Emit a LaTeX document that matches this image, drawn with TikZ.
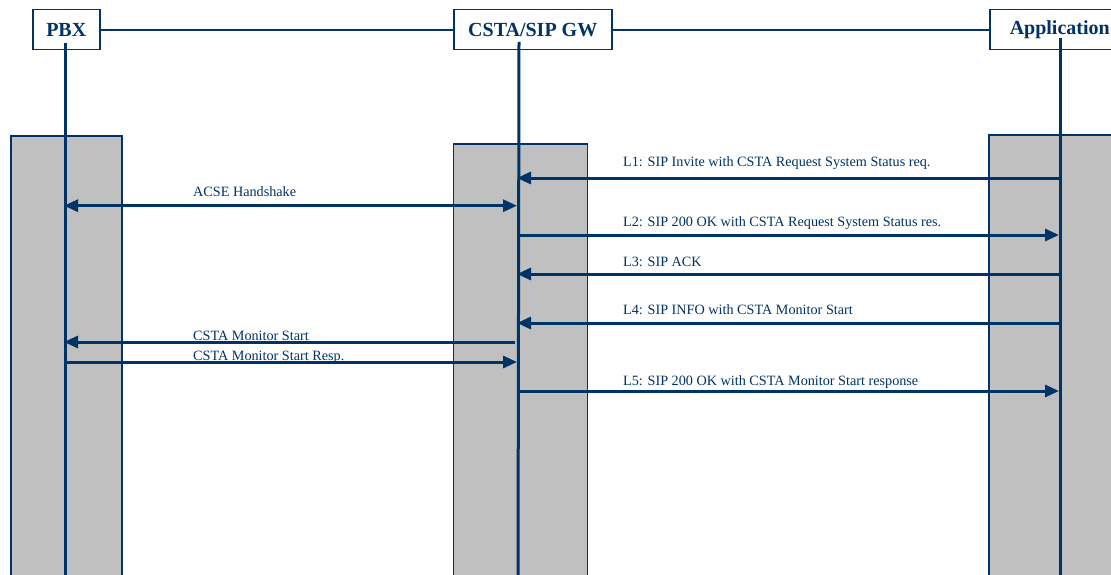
\documentclass[tikz,border=0pt]{standalone}
\usepackage{fontspec}
\setmainfont{Liberation Serif}
\usetikzlibrary{arrows.meta}
\definecolor{navy}{RGB}{0,51,102}
\definecolor{bargray}{RGB}{192,192,192}
\begin{document}
\begin{tikzpicture}[x=1pt,y=-1pt,
 hdr/.style={draw=navy, line width=1.5pt, fill=white, font=\fontsize{20}{24}\selectfont\bfseries, text=navy, inner sep=0pt, anchor=north west, minimum height=40pt},
 bar/.style={draw=navy, line width=1.5pt, fill=bargray},
 life/.style={draw=navy, line width=3pt},
 hline/.style={draw=navy, line width=1.8pt},
 msg/.style={draw=navy, line width=3pt, -{Triangle[length=14pt,width=12pt]}},
 msg2/.style={draw=navy, line width=3pt, {Triangle[length=14pt,width=12pt]}-{Triangle[length=14pt,width=12pt]}},
 lbl/.style={text=navy, font=\fontsize{14.2}{17}\selectfont, anchor=base west, inner sep=0pt},
]
\useasboundingbox (0,0) rectangle (1111,575);
\clip (0,0) rectangle (1111,575);
\fill[white] (0,0) rectangle (1111,575);
% activation bars
\draw[bar] (11,136) rectangle (122,600);
\draw[bar] (453.5,144) rectangle (587.5,600);
\draw[bar] (989,135) rectangle (1140,600);
% header boxes
\node[hdr, minimum width=67pt] (pbx) at (32,9) {PBX};
\node[hdr, minimum width=158pt] (gw) at (453,9) {CSTA/SIP GW};
\node[hdr, minimum width=140pt] (app) at (989,9) {Application};
\draw[hline] (pbx.east) -- (gw.west);
\draw[hline] (gw.east) -- (app.west);
% lifelines
\coordinate (pbxtop) at (65,43);
\coordinate (pbxbot) at (65,580);
\coordinate (gwtop) at (519,42);
\coordinate (gwbot) at (518,580);
\coordinate (apptop) at (1060,38);
\coordinate (appbot) at (1060,580);
\draw[life] (pbxtop) -- (pbxbot);
\draw[life] (gwtop) -- (gwbot);
\draw[life] (apptop) -- (appbot);
% message end points
\coordinate (acseP) at (64,205.7);
\coordinate (acseG) at (517,205.7);
\coordinate (l1A) at (1060,178);
\coordinate (l1G) at (517,178);
\coordinate (l2G) at (518,235);
\coordinate (l2A) at (1059,235);
\coordinate (l3A) at (1060,274);
\coordinate (l3G) at (517,274);
\coordinate (l4A) at (1060,323);
\coordinate (l4G) at (517,323);
\coordinate (msG) at (515,342);
\coordinate (msP) at (64,342);
\coordinate (mrP) at (65,362);
\coordinate (mrG) at (517,362);
\coordinate (l5G) at (518,391);
\coordinate (l5A) at (1059,391);
% messages
\draw[msg2] (acseP) -- (acseG);
\draw[msg] (l1A) -- (l1G);
\draw[msg] (l2G) -- (l2A);
\draw[msg] (l3A) -- (l3G);
\draw[msg] (l4A) -- (l4G);
\draw[msg] (msG) -- (msP);
\draw[msg] (mrP) -- (mrG);
\draw[msg] (l5G) -- (l5A);
% labels
\node[lbl] (tacse) at (193,196.7) {ACSE Handshake};
\node[lbl] (tl1) at (623,166) {L1: SIP Invite with CSTA Request System Status req.};
\node[lbl] (tl2) at (623,226) {L2: SIP 200 OK with CSTA Request System Status res.};
\node[lbl] (tl3) at (623,266) {L3: SIP ACK};
\node[lbl] (tl4) at (623,314) {L4: SIP INFO with CSTA Monitor Start};
\node[lbl] (tms) at (193,340) {CSTA Monitor Start};
\node[lbl] (tmr) at (193,360) {CSTA Monitor Start Resp.};
\node[lbl] (tl5) at (623,385) {L5: SIP 200 OK with CSTA Monitor Start response};
\end{tikzpicture}
\end{document}
